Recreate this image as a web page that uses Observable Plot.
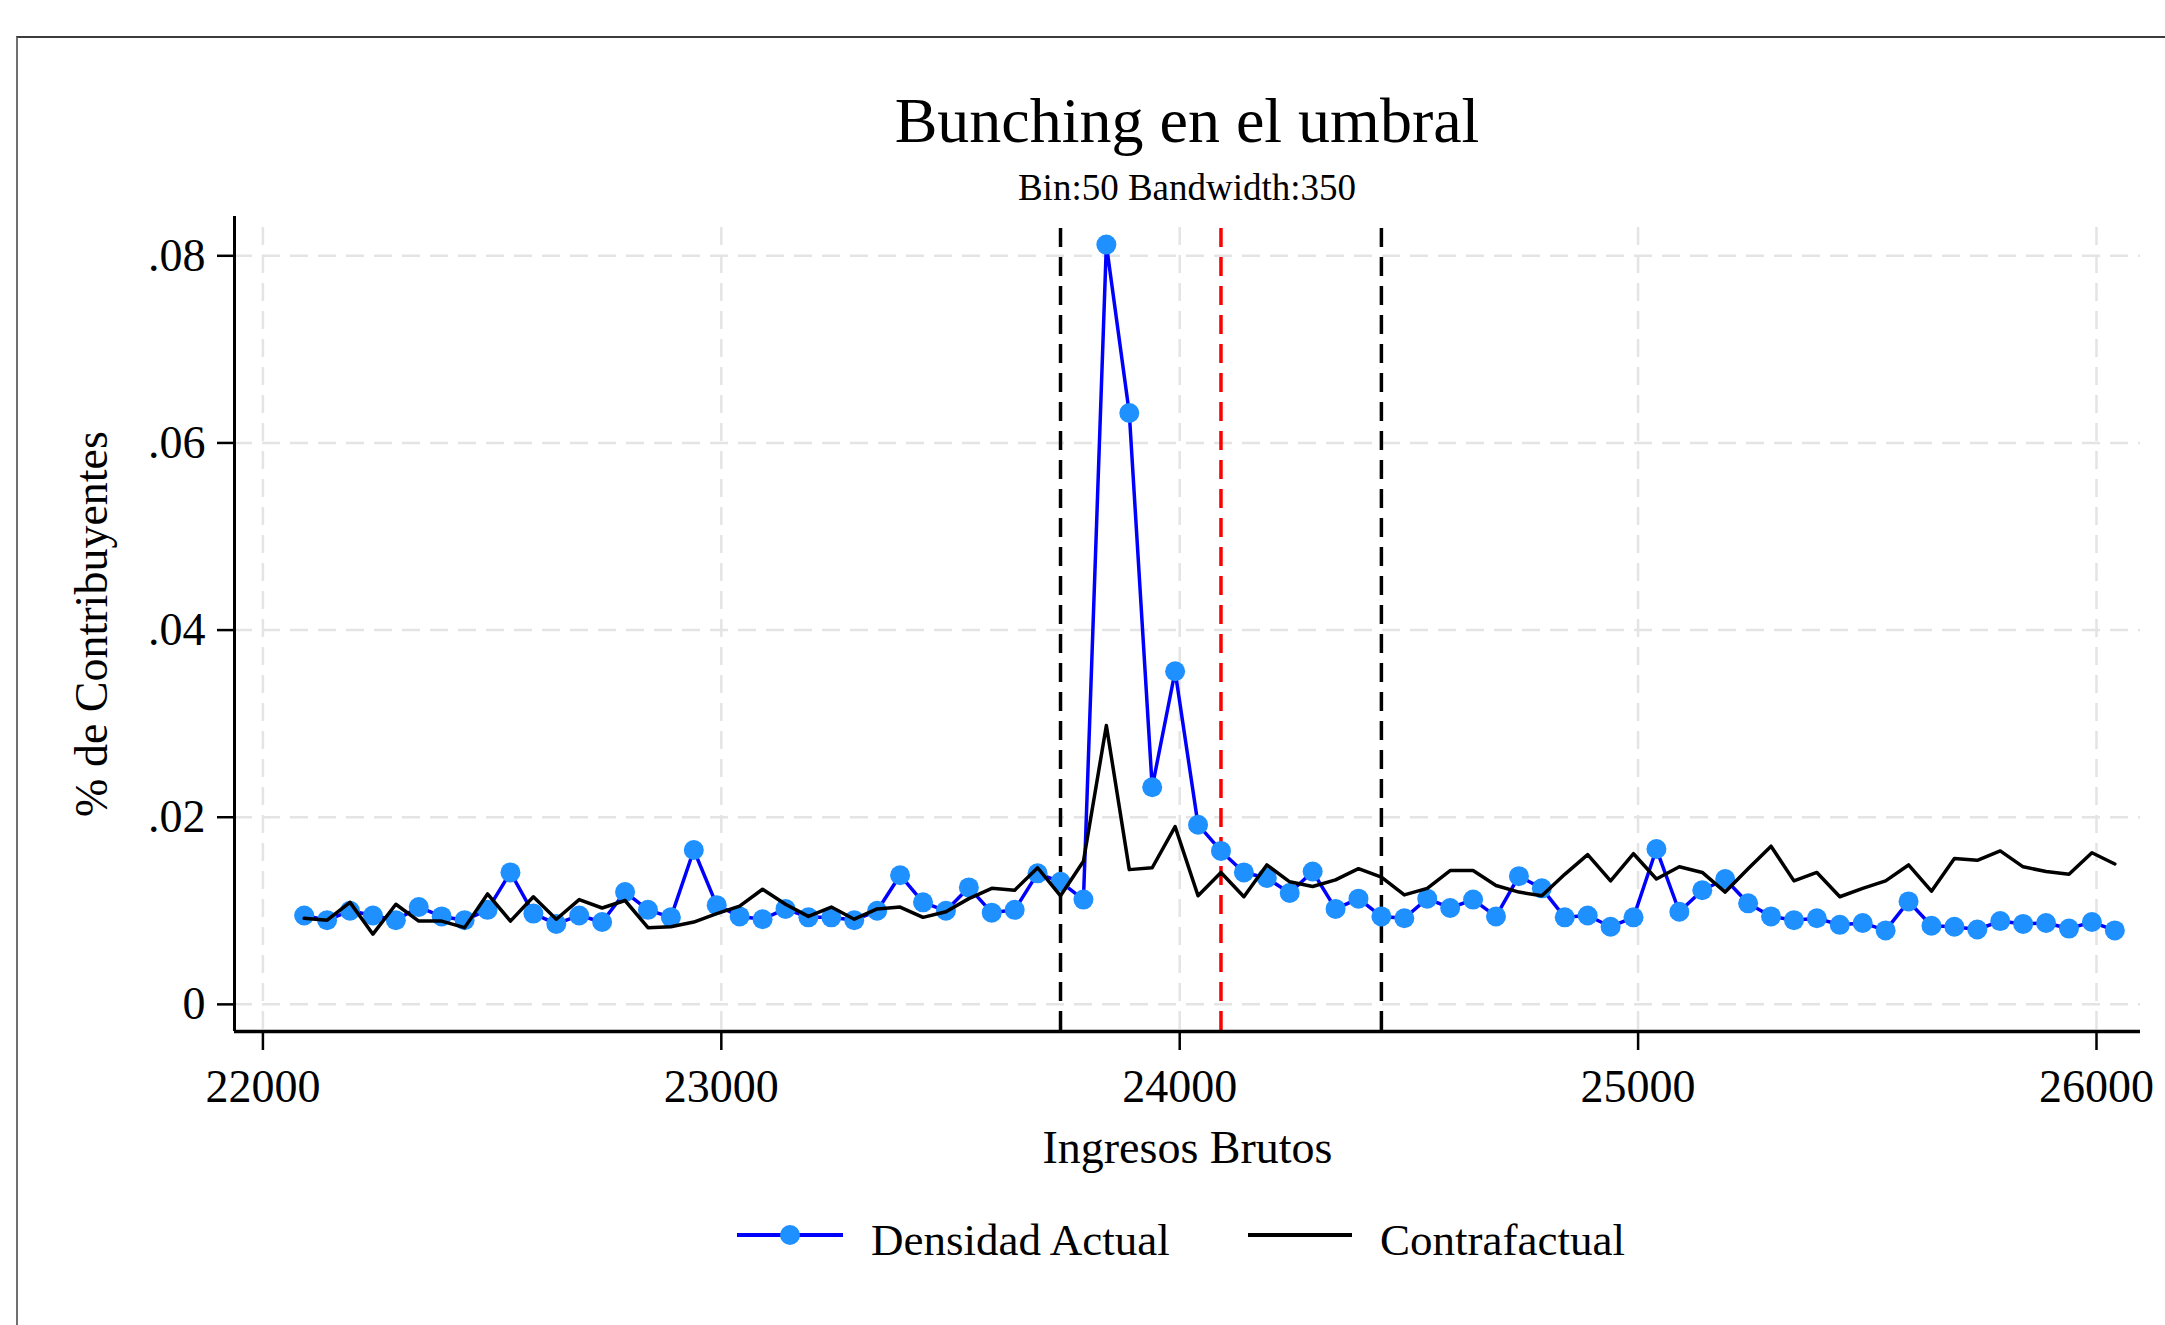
<!DOCTYPE html>
<html><head><meta charset="utf-8">
<script src="https://cdn.jsdelivr.net/npm/d3@7"></script>
<script src="https://cdn.jsdelivr.net/npm/@observablehq/plot@0.6"></script>
<style>
html,body{margin:0;padding:0;background:#fff;}
#page{position:relative;width:2165px;height:1325px;overflow:hidden;background:#fff;font-family:"Liberation Serif","Times New Roman",Times,serif;color:#000;}
#border{position:absolute;left:16px;top:36px;width:3000px;height:3000px;border-top:2px solid #3c3c3c;border-left:2px solid #707070;}
.tc{position:absolute;white-space:nowrap;line-height:1;transform:translateX(-50%);}
.tl{position:absolute;white-space:nowrap;line-height:1;}
#chart{position:absolute;left:0;top:200px;}
.sw{position:absolute;}
</style></head><body>
<div id="page">
  <div id="border"></div>
  <div class="tc" style="left:1187px;top:89px;font-size:64px;">Bunching en el umbral</div>
  <div class="tc" style="left:1187px;top:169px;font-size:37px;">Bin:50 Bandwidth:350</div>
  <div id="chart"></div>
  <svg class="sw" style="left:737px;top:1223px" width="106" height="24"><line x1="0" x2="106" y1="12" y2="12" stroke="#0000ff" stroke-width="4"/><circle cx="53" cy="12" r="10" fill="#1e90ff"/></svg>
  <div class="tl" style="left:871px;top:1218px;font-size:45px;">Densidad Actual</div>
  <svg class="sw" style="left:1248px;top:1223px" width="104" height="24"><line x1="0" x2="104" y1="12" y2="12" stroke="#000" stroke-width="4"/></svg>
  <div class="tl" style="left:1380px;top:1218px;font-size:45px;">Contrafactual</div>
</div>
<script>
const ingresos = [22090, 22140, 22190, 22240, 22290, 22340, 22390, 22440, 22490, 22540,
  22590, 22640, 22690, 22740, 22790, 22840, 22890, 22940, 22990, 23040,
  23090, 23140, 23190, 23240, 23290, 23340, 23390, 23440, 23490, 23540,
  23590, 23640, 23690, 23740, 23790, 23840, 23890, 23940, 23990, 24040,
  24090, 24140, 24190, 24240, 24290, 24340, 24390, 24440, 24490, 24540,
  24590, 24640, 24690, 24740, 24790, 24840, 24890, 24940, 24990, 25040,
  25090, 25140, 25190, 25240, 25290, 25340, 25390, 25440, 25490, 25540,
  25590, 25640, 25690, 25740, 25790, 25840, 25890, 25940, 25990, 26040];
const densidadActual = [0.0095, 0.0090, 0.0100, 0.0095, 0.0090, 0.0104, 0.0094, 0.0090, 0.0101, 0.0141,
  0.0097, 0.0086, 0.0095, 0.0088, 0.0120, 0.0101, 0.0093, 0.0165, 0.0106, 0.0094,
  0.0091, 0.0102, 0.0093, 0.0093, 0.0090, 0.0100, 0.0138, 0.0109, 0.0100, 0.0125,
  0.0098, 0.0101, 0.0140, 0.0131, 0.0112, 0.0812, 0.0632, 0.0232, 0.0356, 0.0192,
  0.0164, 0.0141, 0.0135, 0.0119, 0.0142, 0.0102, 0.0113, 0.0094, 0.0092, 0.0113,
  0.0103, 0.0112, 0.0094, 0.0137, 0.0124, 0.0093, 0.0095, 0.0083, 0.0093, 0.0166,
  0.0099, 0.0122, 0.0134, 0.0108, 0.0094, 0.0090, 0.0092, 0.0085, 0.0087, 0.0079,
  0.0110, 0.0084, 0.0083, 0.0080, 0.0089, 0.0086, 0.0087, 0.0081, 0.0088, 0.0079];
const contrafactual = [0.0092, 0.0090, 0.0109, 0.0075, 0.0107, 0.0089, 0.0089, 0.0082, 0.0118, 0.0089,
  0.0115, 0.0091, 0.0112, 0.0103, 0.0111, 0.0082, 0.0083, 0.0088, 0.0097, 0.0105,
  0.0123, 0.0107, 0.0094, 0.0104, 0.0091, 0.0102, 0.0104, 0.0093, 0.0099, 0.0113,
  0.0124, 0.0122, 0.0146, 0.0116, 0.0153, 0.0298, 0.0144, 0.0146, 0.0190, 0.0116,
  0.0141, 0.0115, 0.0149, 0.0131, 0.0126, 0.0133, 0.0145, 0.0136, 0.0117, 0.0124,
  0.0143, 0.0143, 0.0127, 0.0120, 0.0116, 0.0139, 0.0160, 0.0132, 0.0161, 0.0134,
  0.0147, 0.0141, 0.0120, 0.0145, 0.0169, 0.0132, 0.0141, 0.0115, 0.0124, 0.0132,
  0.0149, 0.0121, 0.0156, 0.0154, 0.0164, 0.0147, 0.0142, 0.0139, 0.0162, 0.0150];
const umbral = [24090];
const limites = [23740, 24440];
const xTicks = [22000, 23000, 24000, 25000, 26000];
const yTicks = [0, 0.02, 0.04, 0.06, 0.08];
const xDomain = [21938, 26096];
const yDomain = [-0.0029, 0.0842];

const rows = ingresos.map((x, i) => ({x, actual: densidadActual[i], contra: contrafactual[i]}));
const fmtY = d => d === 0 ? "0" : d3.format(".2f")(d).replace(/^0/, "");
const fontFamily = "Liberation Serif, Times New Roman, Times, serif";

const chart = Plot.plot({
  width: 2165,
  height: 980,
  marginLeft: 234,
  marginRight: 25,
  marginTop: 16,
  marginBottom: 149,
  style: {fontFamily, fontSize: "46px", background: "transparent", color: "#000", overflow: "visible"},
  x: {domain: xDomain},
  y: {domain: yDomain},
  marks: [
    Plot.ruleY(yTicks, {stroke: "#e4e4e4", strokeWidth: 2.5, strokeDasharray: "18,10"}),
    Plot.ruleX(xTicks, {stroke: "#e4e4e4", strokeWidth: 2.5, strokeDasharray: "18,10", insetTop: 11}),
    Plot.ruleX(limites, {stroke: "#000", strokeWidth: 3.5, strokeDasharray: "19,10", insetTop: 12}),
    Plot.ruleX(umbral, {stroke: "#ff0000", strokeWidth: 3.5, strokeDasharray: "19,10", insetTop: 12}),
    Plot.line(rows, {x: "x", y: "actual", stroke: "#0000ff", strokeWidth: 3.5}),
    Plot.dot(rows, {x: "x", y: "actual", r: 10, fill: "#1e90ff"}),
    Plot.line(rows, {x: "x", y: "contra", stroke: "#000", strokeWidth: 3.5}),
    Plot.axisY(yTicks, {tickSize: 17, tickPadding: 12, tickFormat: fmtY, strokeWidth: 2.5, fontSize: 46,
      label: "% de Contribuyentes", labelAnchor: "center", labelOffset: 160, labelArrow: false}),
    Plot.axisX(xTicks, {tickSize: 19, tickPadding: 19, tickFormat: d3.format("d"), strokeWidth: 2.5, fontSize: 46,
      label: "Ingresos Brutos", labelAnchor: "center", labelOffset: 131, labelArrow: false}),
    Plot.ruleX([xDomain[0]], {stroke: "#000", strokeWidth: 3}),
    Plot.ruleY([yDomain[0]], {stroke: "#000", strokeWidth: 3.5})
  ]
});
document.getElementById("chart").appendChild(chart);
</script>
</body></html>
